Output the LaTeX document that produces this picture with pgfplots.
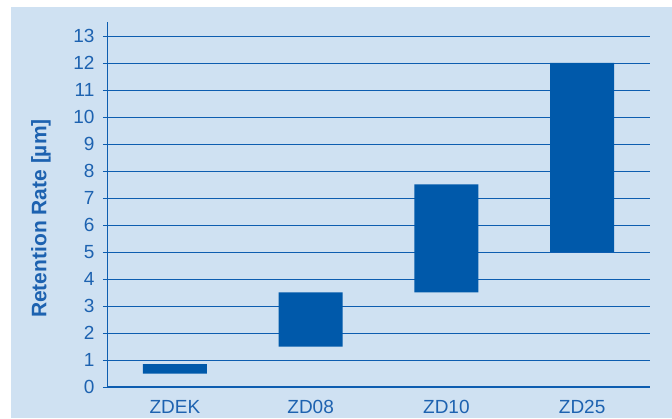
\documentclass[border=0pt]{standalone}
\usepackage{fontspec}
\setmainfont{Liberation Sans}
\usepackage{pgfplots}
\pgfplotsset{compat=1.18}
\definecolor{bgblue}{HTML}{CFE1F2}
\definecolor{barblue}{HTML}{0059AA}
\definecolor{txtblue}{HTML}{1D62B0}
\definecolor{gridblue}{HTML}{0D5DB0}
\begin{document}
\begin{tikzpicture}[x=1pt,y=1pt]
\path[use as bounding box] (0,0) rectangle (672,418);
\fill[bgblue] (11,0) rectangle (672,411);
\begin{axis}[
  at={(107pt,31pt)}, anchor=south west,
  scale only axis, width=543pt, height=364.5pt,
  xmin=-0.5, xmax=3.5, ymin=0, ymax=13.5,
  ybar stacked, bar width=64pt,
  axis x line*=bottom, axis y line*=left,
  x axis line style={-, draw=gridblue, line width=1.6pt},
  y axis line style={-, draw=gridblue, line width=0.9pt},
  xtick={0,1,2,3}, xticklabels={ZDEK,ZD08,ZD10,ZD25},
  xtick style={draw=none},
  ytick={0,1,...,13},
  ytick style={draw=gridblue, line width=0.8pt},
  tick align=outside, major tick length=4pt,
  ymajorgrids, grid style={draw=gridblue, line width=0.8pt},
  /pgf/number format/assume math mode=true,
  ticklabel style={font=\fontsize{19}{22}\selectfont, text=txtblue},
  yticklabel style={xshift=-5pt},
  xticklabel style={yshift=-6pt},
  ylabel={\textbf{Retention Rate [µm]}},
  ylabel style={font=\fontsize{21}{24}\selectfont, text=txtblue,
    at={(axis description cs:-0.1215,0.462)}, anchor=center, rotate=0},
]
\addplot[draw=none, fill=none] coordinates {(0,0.5) (1,1.5) (2,3.5) (3,5)};
\addplot[draw=none, fill=barblue] coordinates {(0,0.35) (1,2) (2,4) (3,7)};
\end{axis}
\end{tikzpicture}
\end{document}
